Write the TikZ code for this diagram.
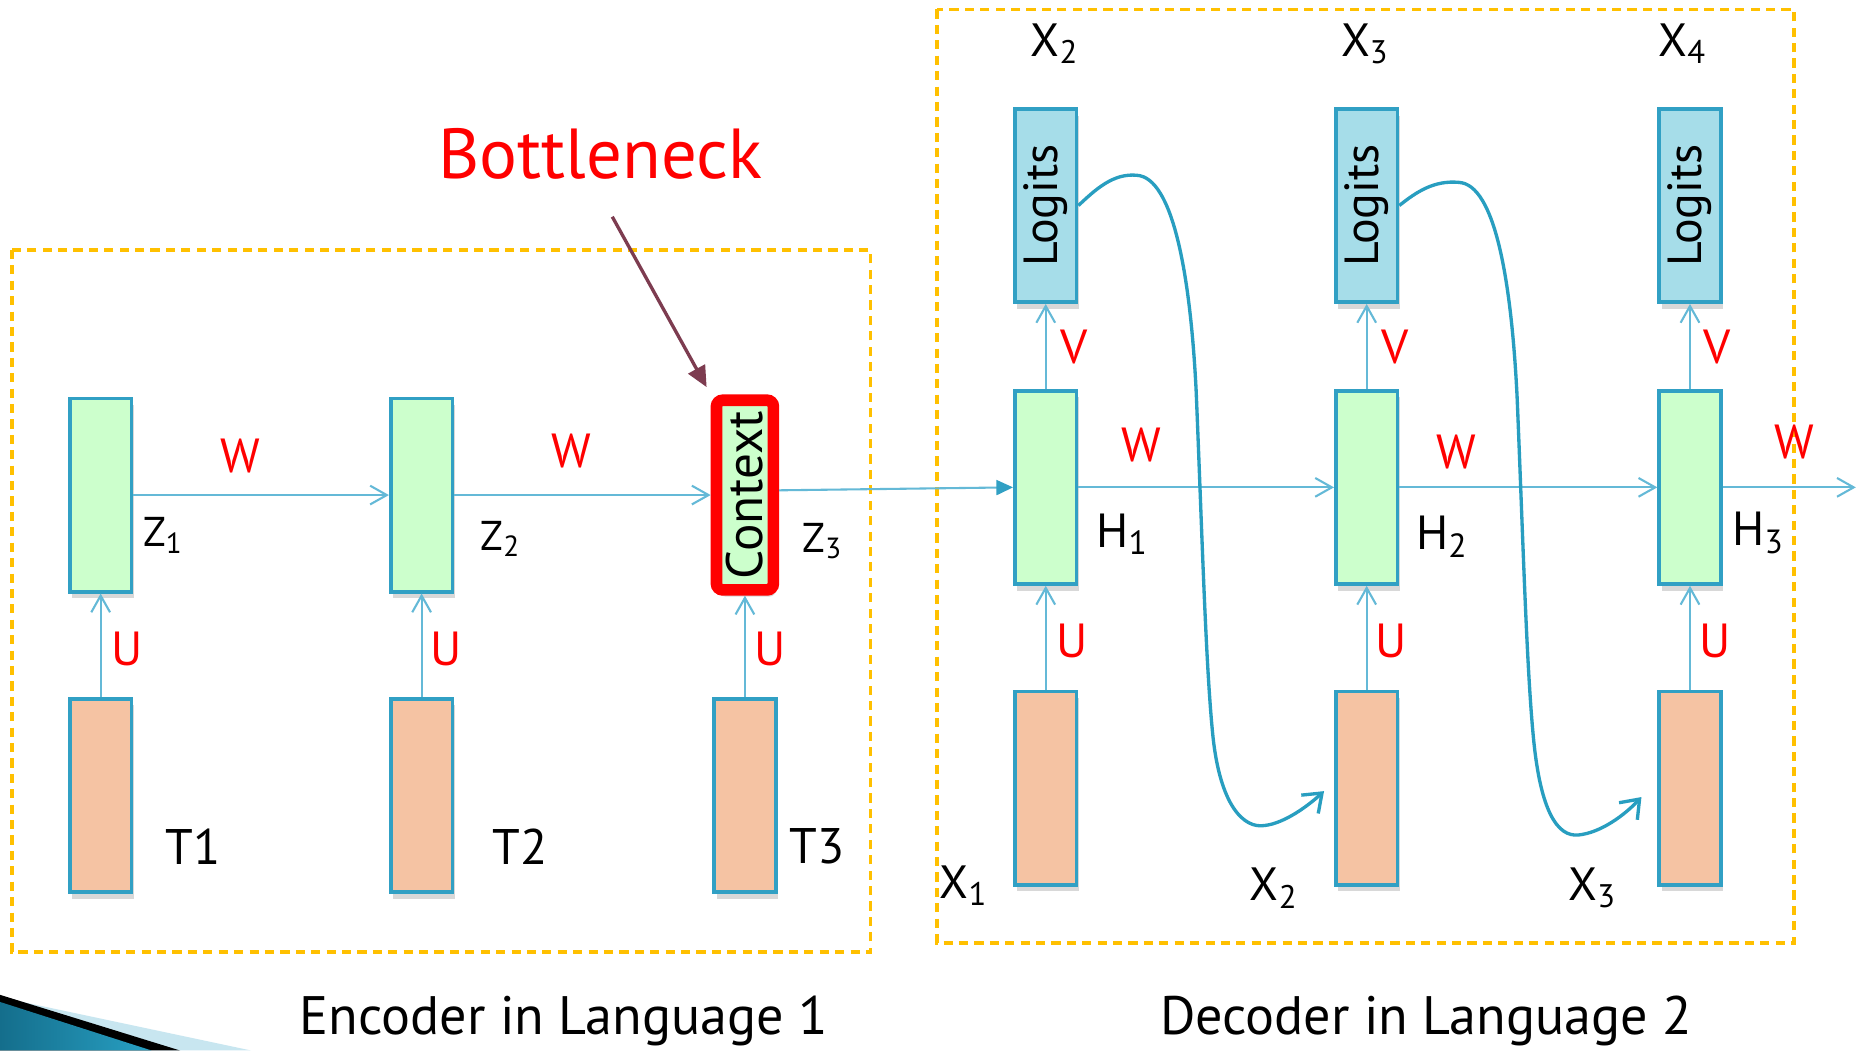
\documentclass[tikz,border=0pt]{standalone}
\usepackage{fontspec}
\setmainfont{PT Sans}
\usetikzlibrary{arrows.meta,shadows,calc}
\definecolor{boxline}{RGB}{49,160,196}
\definecolor{greenfill}{RGB}{204,255,204}
\definecolor{peach}{RGB}{245,195,163}
\definecolor{logitfill}{RGB}{166,221,233}
\definecolor{dashcol}{RGB}{255,192,0}
\definecolor{arrowcol}{RGB}{100,185,215}
\definecolor{curvecol}{RGB}{40,158,192}
\definecolor{bnarrow}{RGB}{125,60,80}
\definecolor{labred}{RGB}{255,0,0}
\definecolor{swdark}{RGB}{20,110,140}
\definecolor{swlight}{RGB}{40,160,195}
\definecolor{swpale}{RGB}{200,230,240}
\tikzset{
  cell/.style={draw=boxline, line width=0.9pt, inner sep=0pt, minimum width=0.52cm, minimum height=1.63cm,
    drop shadow={shadow xshift=0.6pt, shadow yshift=-1.6pt, opacity=0.3}},
  hid/.style={cell, fill=greenfill},
  inp/.style={cell, fill=peach},
  lgt/.style={cell, fill=logitfill},
  ctxbox/.style={draw=labred, line width=2.8pt, fill=greenfill, rounded corners=1.5pt, inner sep=0pt,
    minimum width=0.48cm, minimum height=1.60cm,
    drop shadow={shadow xshift=0.6pt, shadow yshift=-1.6pt, opacity=0.3}},
  flow/.style={draw=arrowcol, line width=0.5pt, -{Straight Barb[length=4pt,width=4.5pt]}},
  flowfill/.style={draw=arrowcol, line width=0.5pt, -{Triangle[length=4pt,width=3.6pt,fill=boxline,color=boxline]}},
  curve/.style={draw=curvecol, line width=0.8pt, -{Straight Barb[length=4pt,width=6pt]}},
  wlab/.style={text=labred, font=\fontsize{11.5}{13}\selectfont, inner sep=0pt},
  zlab/.style={font=\fontsize{10}{12}\selectfont, inner sep=0pt},
  tlab/.style={font=\fontsize{12}{14}\selectfont, inner sep=0pt},
  hlab/.style={font=\fontsize{11.5}{13}\selectfont, inner sep=0pt},
  xlab/.style={font=\fontsize{11.2}{13}\selectfont, inner sep=0pt},
  boxtext/.style={rotate=90, font=\fontsize{11.5}{13}\selectfont, inner sep=0pt},
  caption/.style={font=\fontsize{13}{15}\selectfont, inner sep=0pt},
  dashbox/.style={draw=dashcol, line width=0.9pt, dash pattern=on 2.2pt off 1.5pt}
}
\begin{document}
\begin{tikzpicture}[x=0.01cm, y=-0.01cm]
\useasboundingbox (0,0) rectangle (1568,887);
\fill[white] (0,0) rectangle (1568,887);

% corner swoosh
\fill[swpale] (0,842) -- (212,887) -- (0,887) -- cycle;
\fill[black] (0,840) -- (152,887) -- (0,887) -- cycle;
\shade[left color=swdark, right color=swlight] (0,846) -- (128,887) -- (0,887) -- cycle;

% dashed frames
\draw[dashbox] (10,211) rectangle (735,804);
\draw[dashbox] (791,8) rectangle (1515,796);

% encoder
\node[hid] (z1) at (85,418) {};
\node[hid] (z2) at (356,418) {};
\node[ctxbox] (ctx) at (629,418) {};
\node[boxtext, font=\fontsize{12.3}{14}\selectfont] (ctxt) at (ctx) {Context};
\node[inp] (t1) at (85,671.5) {};
\node[inp] (t2) at (356,671.5) {};
\node[inp] (t3) at (629,671.5) {};

% decoder
\node[lgt] (lg1) at (883,173.5) {};
\node[lgt] (lg2) at (1154,173.5) {};
\node[lgt] (lg3) at (1427,173.5) {};
\node[boxtext] (lg1t) at (lg1) {Logits};
\node[boxtext] (lg2t) at (lg2) {Logits};
\node[boxtext] (lg3t) at (lg3) {Logits};
\node[hid] (h1) at (883,411.5) {};
\node[hid] (h2) at (1154,411.5) {};
\node[hid] (h3) at (1427,411.5) {};
\node[inp] (x1) at (883,665.5) {};
\node[inp] (x2) at (1154,665.5) {};
\node[inp] (x3) at (1427,665.5) {};

% encoder connectors
\draw[flow] (z1.east) -- (z2.west);
\draw[flow] (z2.east) -- (ctx.west);
\draw[flow] (t1.north) -- (z1.south);
\draw[flow] (t2.north) -- (z2.south);
\draw[flow] (t3.north) -- (ctx.south);
\draw[flowfill] ($(ctx.east)+(0,-4)$) -- (h1.west);

% decoder connectors
\coordinate (rend) at (1567,411.5);
\draw[flow] (h1.east) -- (h2.west);
\draw[flow] (h2.east) -- (h3.west);
\draw[flow] (h3.east) -- (rend);
\draw[flow] (h1.north) -- (lg1.south);
\draw[flow] (h2.north) -- (lg2.south);
\draw[flow] (h3.north) -- (lg3.south);
\draw[flow] (x1.north) -- (h1.south);
\draw[flow] (x2.north) -- (h2.south);
\draw[flow] (x3.north) -- (h3.south);

% feedback curves
\coordinate (c1) at (1118,668);
\coordinate (c2) at (1386,673);
\draw[curve] (lg1.east) .. controls (925,160) and (940,146) .. (960,148)
  .. controls (990,150) and (1005,230) .. (1010,330)
  .. controls (1015,450) and (1018,560) .. (1024,620)
  .. controls (1030,680) and (1050,700) .. (1068,697)
  .. controls (1085,695) and (1105,680) .. (c1);
\draw[curve] (lg2.east) .. controls (1196,162) and (1211,152) .. (1232,154)
  .. controls (1262,156) and (1276,235) .. (1281,335)
  .. controls (1286,455) and (1289,565) .. (1295,625)
  .. controls (1301,685) and (1315,707) .. (1333,705)
  .. controls (1352,703) and (1372,688) .. (c2);

% weight labels
\node[wlab] (we1) at (203,385) {W};
\node[wlab] (we2) at (482,381) {W};
\node[wlab] (wd1) at (964,376) {W};
\node[wlab] (wd2) at (1230,382) {W};
\node[wlab] (wd3) at (1515,373) {W};
\node[wlab] (ue1) at (107,548) {U};
\node[wlab] (ue2) at (377,548) {U};
\node[wlab] (ue3) at (650,548) {U};
\node[wlab] (ud1) at (905,541) {U};
\node[wlab] (ud2) at (1175,541) {U};
\node[wlab] (ud3) at (1448,541) {U};
\node[wlab] (vd1) at (907,293) {V};
\node[wlab] (vd2) at (1178,293) {V};
\node[wlab] (vd3) at (1450,293) {V};

% state labels
\node[zlab] (zl1) at (138,452) {Z\textsubscript{1}};
\node[zlab] (zl2) at (423,455) {Z\textsubscript{2}};
\node[zlab] (zl3) at (695,457) {Z\textsubscript{3}};
\node[tlab] (tl1) at (163,715) {T1};
\node[tlab] (tl2) at (439,715) {T2};
\node[tlab] (tl3) at (690,715) {T3};
\node[hlab] (hl1) at (948,451) {H\textsubscript{1}};
\node[hlab] (hl2) at (1218,453) {H\textsubscript{2}};
\node[hlab] (hl3) at (1485,450) {H\textsubscript{3}};
\node[xlab] (xt2) at (891,37) {X\textsubscript{2}};
\node[xlab] (xt3) at (1153,37) {X\textsubscript{3}};
\node[xlab] (xt4) at (1421,37) {X\textsubscript{4}};
\node[xlab] (xb1) at (814,748) {X\textsubscript{1}};
\node[xlab] (xb2) at (1076,750) {X\textsubscript{2}};
\node[xlab] (xb3) at (1345,750) {X\textsubscript{3}};

% bottleneck
\node[text=labred, font=\fontsize{17}{20}\selectfont, inner sep=0pt] (bn) at (507,130) {Bottleneck};
\coordinate (bnstart) at (517,183);
\draw[draw=bnarrow, line width=0.8pt, -{Triangle[length=5pt,width=4.5pt]}, shorten >=2pt] (bnstart) -- (ctx.north west);

% captions
\node[caption] (enc) at (476,862) {Encoder in Language 1};
\node[caption] (dec) at (1204,862) {Decoder in Language 2};
\end{tikzpicture}
\end{document}
